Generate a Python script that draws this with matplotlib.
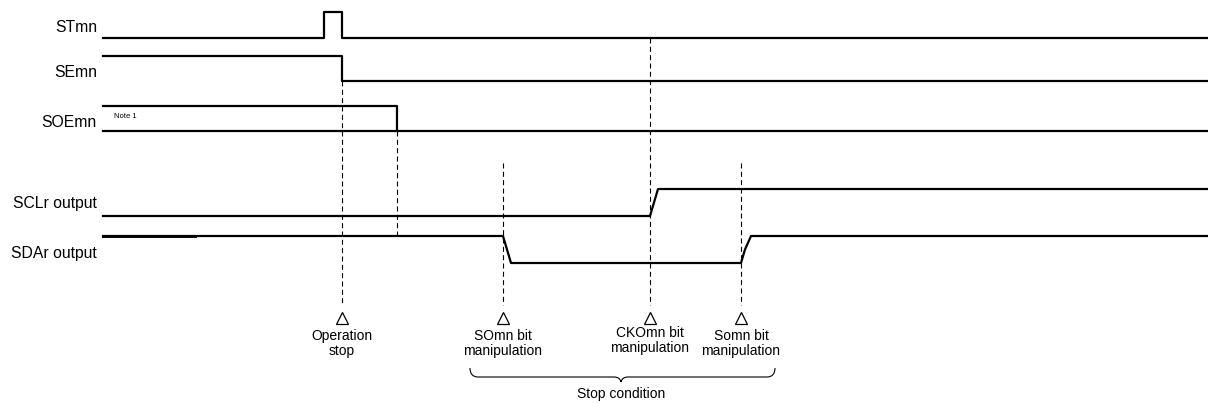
import numpy as np
import matplotlib
matplotlib.use("Agg")
from matplotlib import pyplot as plt
from matplotlib.path import Path
from matplotlib.patches import PathPatch

plt.rcParams['font.family'] = ['Liberation Sans', 'DejaVu Sans']

# signal names and waveforms (time in chart units, level 0 = low, 1 = high)
names = ["STmn", "SEmn", "SOEmn", "SCLr output", "SDAr output"]

stTime = [103, 324, 324, 342, 342, 1208]
stLevel = [0, 0, 1, 1, 0, 0]
seTime = [103, 342, 342, 1208]
seLevel = [1, 1, 0, 0]
soeTime = [103, 397, 397, 1208]
soeLevel = [1, 1, 0, 0]
soeLowTime = [103, 397]   # low rail also drawn under "Note 1"
soeLowLevel = [0, 0]
sclTime = [103, 650, 658, 1208]
sclLevel = [0, 0, 1, 1]
sdaTime = [103, 503, 511, 741, 745, 751, 1208]
sdaLevel = [1, 1, 0, 0, 0.5, 1, 1]

# event markers: time, and the caption under the triangle
eventTime = [342, 503, 650, 741]
eventText = ["Operation\nstop", "SOmn bit\nmanipulation",
             "CKOmn bit\nmanipulation", "Somn bit\nmanipulation"]

# row layout: y of low rail, y of high rail
rowLow = [38, 81, 131, 216, 263]
rowHigh = [12, 56, 106, 189, 236]
labelY = [32, 77, 127, 208, 258]

fig = plt.figure(figsize=(12.08, 4.03), dpi=100)
ax = fig.add_axes([0, 0, 1, 1])
ax.set_xlim(0, 1208)
ax.set_ylim(403, 0)
ax.axis('off')

def ypos(row, level):
    level = np.asarray(level, dtype=float)
    return rowLow[row] + (rowHigh[row] - rowLow[row]) * level

lw = 1.6
ax.plot(stTime, ypos(0, stLevel), color='black', lw=lw)
ax.plot(seTime, ypos(1, seLevel), color='black', lw=lw)
ax.plot(soeTime, ypos(2, soeLevel), color='black', lw=lw)
ax.plot(soeLowTime, ypos(2, soeLowLevel), color='black', lw=lw)
ax.plot(sclTime, ypos(3, sclLevel), color='black', lw=lw)
ax.plot(sdaTime, ypos(4, sdaLevel), color='black', lw=lw)
ax.plot([103, 195], ypos(4, [1, 1]), color='black', lw=2.1)

for i in range(len(names)):
    ax.text(97, labelY[i], names[i], ha='right', va='baseline', fontsize=11.3)

ax.text(114, 116, "Note 1", ha='left', va='center', fontsize=5.5)

# dashed guide lines
dash = (0, (4.5, 3))
guides = [(342, rowLow[1], 305), (397, rowLow[2], rowHigh[4]),
          (503, 163, 305), (650, rowLow[0], 305), (741, 163, 305)]
for x, y0, y1 in guides:
    ax.plot([x, x], [y0, y1], color='black', lw=0.8, linestyle=dash)

# triangles and captions
for x, txt in zip(eventTime, eventText):
    ax.plot(x, 318, marker='^', ms=9, mfc='white', mec='black', mew=0.9)
    top = 326 if txt.startswith("CKO") else 329
    ax.text(x, top, txt, ha='center', va='top', fontsize=10, linespacing=1.05)

# brace for stop condition
verts = [(470, 368), (470, 377), (478, 377),
         (614, 377), (620, 377), (621, 382),
         (622, 377), (628, 377),
         (767, 377), (775, 377), (775, 368)]
codes = [Path.MOVETO, Path.CURVE3, Path.CURVE3,
         Path.LINETO, Path.CURVE3, Path.CURVE3,
         Path.CURVE3, Path.CURVE3,
         Path.LINETO, Path.CURVE3, Path.CURVE3]
ax.add_patch(PathPatch(Path(verts, codes), fill=False, edgecolor='black', lw=0.8))
ax.text(621, 398, "Stop condition", ha='center', va='baseline', fontsize=10)

plt.savefig("out.png", dpi=100)
